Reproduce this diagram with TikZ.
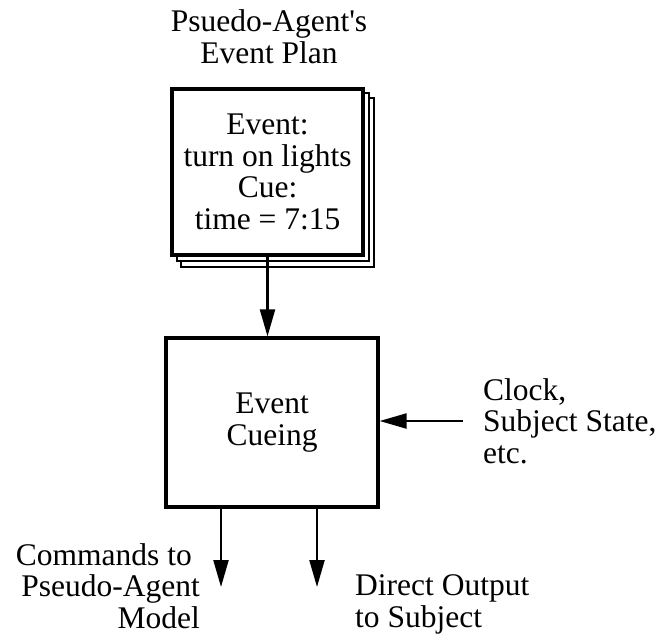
\documentclass[tikz,border=0pt]{standalone}
\usepackage{fontspec}
\setmainfont{Liberation Serif}[Ligatures=TeXOff]
\usetikzlibrary{arrows.meta}
\begin{document}
\begin{tikzpicture}[x=1pt,y=-1pt,
  every node/.style={font=\fontsize{31.5}{31.5}\selectfont, inner sep=0pt},
  mainbox/.style={draw, line width=3.2pt, fill=white},
  layer/.style={draw, line width=1.8pt, fill=white},
  flow/.style={line width=2.2pt, -{Triangle[length=27pt,width=15pt]}},
  textlabel/.style={align=left, anchor=base west}]
\useasboundingbox (0,0) rectangle (660,635);
% stacked plan sheets
\draw[layer] (181,98) rectangle (374,267);
\draw[layer] (177,93) rectangle (369,261);
\node[mainbox, minimum width=191pt, minimum height=166pt, align=center] (plan) at (267.5,172) {Event:\\turn on lights\\Cue:\\time = 7:15};
\node[align=center, anchor=base] (title) at (269,63) {Psuedo-Agent's\\Event Plan};
\node[mainbox, minimum width=212pt, minimum height=169pt, align=center] (cue) at (272,422.5) {Event\\Cueing};
\node[textlabel] (inputs) at (483,463) {Clock,\\Subject State,\\etc.};
\node[align=right, anchor=base east] (cmds) at (200,628) {Commands to\hspace*{8pt}\\Pseudo-Agent\hspace*{8pt}\\Model};
\node[textlabel] (direct) at (355,627) {Direct Output\\to Subject};
\coordinate (inp) at (463,421);
\coordinate (out1) at (221,587);
\coordinate (out2) at (317,587);
\draw[flow] (plan.south) -- (plan.south |- cue.north);
\draw[flow] (inp) -- (cue.east |- inp);
\draw[flow] (cue.south -| out1) -- (out1);
\draw[flow] (cue.south -| out2) -- (out2);
\end{tikzpicture}
\end{document}
